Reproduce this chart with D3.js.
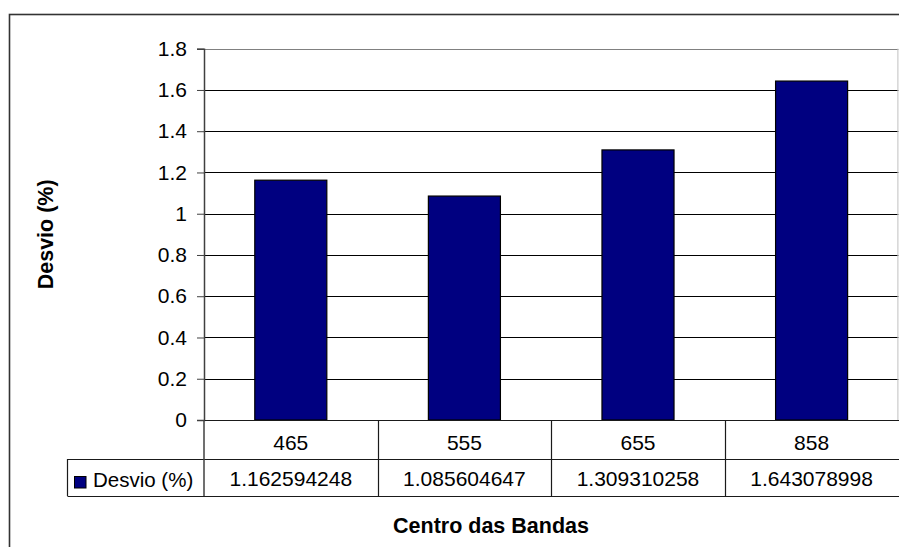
<!DOCTYPE html>
<html>
<head>
<meta charset="utf-8">
<script src="https://cdn.jsdelivr.net/npm/d3@7"></script>
<style>
  html, body { margin: 0; padding: 0; background: #fff; }
  svg { display: block; }
  text { font-family: "Liberation Sans", Arial, sans-serif; fill: #000; }
</style>
</head>
<body>
<svg id="chart" width="899" height="547"></svg>
<script>
const categories = ["465", "555", "655", "858"];
const values = [1.162594248, 1.085604647, 1.309310258, 1.643078998];
const valueLabels = ["1.162594248", "1.085604647", "1.309310258", "1.643078998"];
const yTicks = [0, 0.2, 0.4, 0.6, 0.8, 1, 1.2, 1.4, 1.6, 1.8];
const seriesName = "Desvio (%)";
const yTitle = "Desvio (%)";
const xTitle = "Centro das Bandas";

const svg = d3.select("#chart");
const W = 899, H = 547;
const plotL = 204, plotR = 898.4, plotT = 48.7, plotB = 420;
const row1B = 459, row2B = 496, legendL = 67.5;

svg.append("rect").attr("width", W).attr("height", H).attr("fill", "#fff");

// outer chart border
svg.append("rect").attr("x", 9.5).attr("y", 14.5).attr("width", 1000).attr("height", 1000)
  .attr("fill", "none").attr("stroke", "#333").attr("stroke-width", 1.6);

const x = d3.scaleBand().domain(categories).range([plotL, plotR]).paddingInner(0).paddingOuter(0);
const y = d3.scaleLinear().domain([0, 1.8]).range([plotB, plotT]);

// gridlines
svg.append("g").selectAll("line").data(yTicks.filter(t => t > 0 && t < 1.8)).join("line")
  .attr("x1", plotL).attr("x2", plotR)
  .attr("y1", d => Math.round(y(d)) + 0.5).attr("y2", d => Math.round(y(d)) + 0.5)
  .attr("stroke", "#000").attr("stroke-width", 1);

// plot area border (top gray, right light gray)
svg.append("line").attr("x1", plotL).attr("x2", plotR)
  .attr("y1", Math.round(y(1.8)) + 0.5).attr("y2", Math.round(y(1.8)) + 0.5)
  .attr("stroke", "#808080").attr("stroke-width", 1.2);
svg.append("line").attr("x1", plotR - 0.5).attr("x2", plotR - 0.5)
  .attr("y1", y(1.8)).attr("y2", plotB)
  .attr("stroke", "#c0c0c0").attr("stroke-width", 1);

// bars
const barW = x.bandwidth() * 0.415;
svg.append("g").selectAll("rect").data(categories.map((c, i) => ({ c, v: values[i] }))).join("rect")
  .attr("x", d => x(d.c) + (x.bandwidth() - barW) / 2)
  .attr("y", d => y(d.v))
  .attr("width", barW)
  .attr("height", d => y(0) - y(d.v))
  .attr("fill", "#000080").attr("stroke", "#000").attr("stroke-width", 1.2);

// y axis
const yAxis = d3.axisLeft(y).tickValues(yTicks).tickSize(7).tickPadding(10)
  .tickFormat(d => d3.format("")(+d.toFixed(1)));
const gy = svg.append("g").attr("transform", `translate(${plotL},0)`).call(yAxis);
gy.select(".domain").attr("stroke", "#404040").attr("stroke-width", 1.5);
gy.selectAll(".tick line").attr("stroke", "#404040");
gy.selectAll(".tick text").attr("font-size", 21).attr("font-family", "Liberation Sans, Arial, sans-serif")
  .attr("fill", "#000");

// data table
const tbl = svg.append("g").attr("stroke", "#1a1a1a").attr("stroke-width", 1.2);
tbl.append("line").attr("x1", plotL).attr("x2", W).attr("y1", plotB + 0.5).attr("y2", plotB + 0.5);
tbl.append("line").attr("x1", legendL).attr("x2", W).attr("y1", row1B + 0.5).attr("y2", row1B + 0.5);
tbl.append("line").attr("x1", legendL).attr("x2", W).attr("y1", row2B + 0.5).attr("y2", row2B + 0.5);
tbl.append("line").attr("x1", legendL).attr("x2", legendL).attr("y1", row1B).attr("y2", row2B);
tbl.append("line").attr("x1", plotL).attr("x2", plotL).attr("y1", plotB).attr("y2", row2B).attr("stroke", "#404040").attr("stroke-width", 1.5);
tbl.selectAll("line.sep").data(categories.slice(1)).join("line").attr("class", "sep")
  .attr("x1", d => Math.round(x(d)) + 0.5).attr("x2", d => Math.round(x(d)) + 0.5)
  .attr("y1", plotB).attr("y2", row2B);

// category labels
svg.append("g").selectAll("text").data(categories).join("text")
  .attr("x", d => x(d) + x.bandwidth() / 2).attr("y", 449.5)
  .attr("text-anchor", "middle").attr("font-size", 21).text(d => d);

// value labels
svg.append("g").selectAll("text").data(categories).join("text")
  .attr("x", d => x(d) + x.bandwidth() / 2).attr("y", 485.5)
  .attr("text-anchor", "middle").attr("font-size", 21)
  .text((d, i) => valueLabels[i]);

// legend key
svg.append("rect").attr("x", 74.5).attr("y", 476.5).attr("width", 11.5).attr("height", 11.5)
  .attr("fill", "#000080").attr("stroke", "#000").attr("stroke-width", 1);
svg.append("text").attr("x", 93).attr("y", 487).attr("font-size", 20.5).text(seriesName);

// axis titles
svg.append("text").attr("transform", `translate(53,${(plotT + plotB) / 2}) rotate(-90)`)
  .attr("text-anchor", "middle").attr("font-size", 21.5).attr("font-weight", "bold").text(yTitle);
svg.append("text").attr("x", 491).attr("y", 532.5)
  .attr("text-anchor", "middle").attr("font-size", 21.5).attr("font-weight", "bold").text(xTitle);
</script>
</body>
</html>
